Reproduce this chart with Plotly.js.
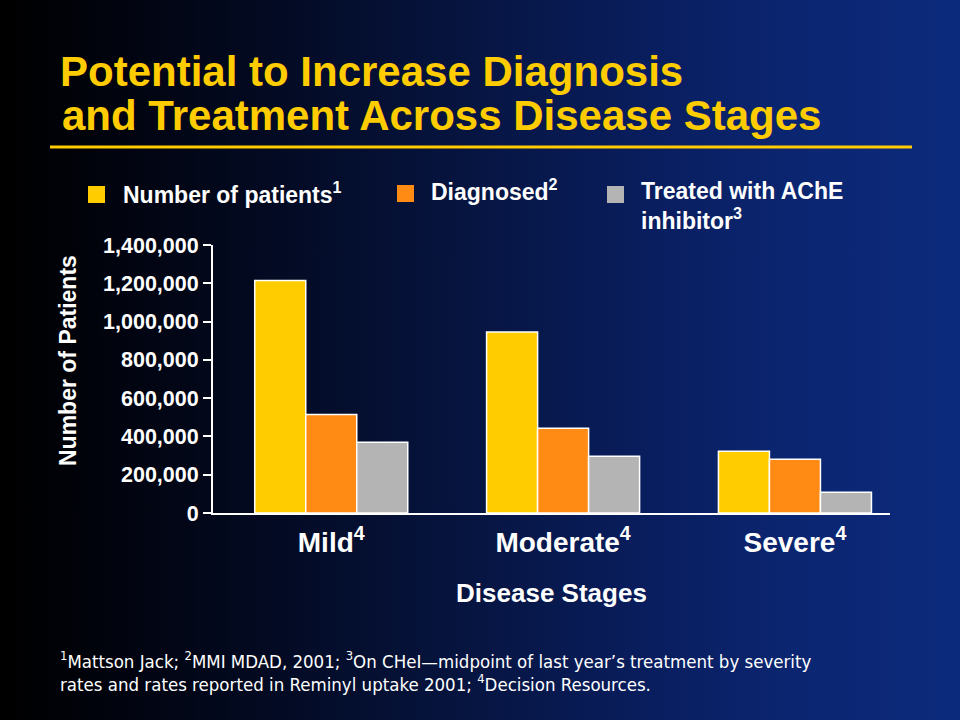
<!DOCTYPE html>
<html><head><meta charset="utf-8">
<script src="https://cdn.plot.ly/plotly-3.0.1.min.js"></script>
<style>
html,body{margin:0;padding:0;}
body{width:960px;height:720px;overflow:hidden;
background:linear-gradient(to right,#000000 0%,#01030c 10%,#030a22 28%,#06143f 48%,#091d5c 66%,#0b2570 82%,#0c2a7c 100%);}
#chart{width:960px;height:720px;}
</style></head><body><div id="chart"></div>
<script>
// ---- data ----
const categories = ['Mild', 'Moderate', 'Severe'];
const categoryLabels = ['Mild<sup>4</sup>', 'Moderate<sup>4</sup>', 'Severe<sup>4</sup>'];
const seriesNames = ['Number of patients<sup>1</sup>', 'Diagnosed<sup>2</sup>', 'Treated with AChE<br>inhibitor<sup>3</sup>'];
const numberOfPatients = [1215000, 945000, 323000];
const diagnosed = [515000, 443000, 281000];
const treatedAChE = [369000, 297000, 109000];
const yTickValues = [0, 200000, 400000, 600000, 800000, 1000000, 1200000, 1400000];
const yTickLabels = ['0', '200,000', '400,000', '600,000', '800,000', '1,000,000', '1,200,000', '1,400,000'];
const titleLines = ['Potential to Increase Diagnosis', 'and Treatment Across Disease Stages'];
const yTitle = 'Number of Patients';
const xTitle = 'Disease Stages';
const footnoteLines = [
  '<sup>1</sup>Mattson Jack; <sup>2</sup>MMI MDAD, 2001; <sup>3</sup>On CHeI\u2014midpoint of last year\u2019s treatment by severity',
  'rates and rates reported in Reminyl uptake 2001; <sup>4</sup>Decision Resources.'
];
const colors = ['#FFCC00', '#FF8A14', '#B4B4B4'];

// ---- layout helpers ----
const W = 960, H = 720;
const M = {l: 213, r: 70, t: 245, b: 207};
const pw = W - M.l - M.r, ph = H - M.t - M.b;
const px = x => (x - M.l) / pw;
const py = y => (H - M.b - y) / ph;
const FONT = '"Liberation Sans", Arial, Helvetica, sans-serif';
const NARROW = '"Liberation Sans Narrow", "Arial Narrow", "DejaVu Sans Condensed", sans-serif';

const seriesValues = [numberOfPatients, diagnosed, treatedAChE];
const traces = seriesValues.map((vals, i) => ({
  type: 'bar',
  x: categories,
  y: vals,
  name: seriesNames[i],
  marker: {color: colors[i], line: {color: '#FFFFFF', width: 1.5}},
  hoverinfo: 'none',
  showlegend: false
}));

// legend (drawn manually to match slide layout)
const legendPos = [
  {sx: 88, sy: 186, tx: 121, ty: 193},
  {sx: 397, sy: 185, tx: 429, ty: 190},
  {sx: 607, sy: 186, tx: 639, ty: 206}
];
const shapes = [
  {type: 'line', xref: 'paper', yref: 'paper', x0: px(50), x1: px(912), y0: py(147), y1: py(147),
   line: {color: '#FFCC00', width: 3}}
];
const annotations = [];
legendPos.forEach((p, i) => {
  shapes.push({type: 'rect', xref: 'paper', yref: 'paper',
    x0: px(p.sx), x1: px(p.sx + 17), y0: py(p.sy), y1: py(p.sy + 17),
    fillcolor: colors[i], line: {width: 0}});
  annotations.push({xref: 'paper', yref: 'paper', x: px(p.tx), y: py(p.ty),
    xanchor: 'left', yanchor: 'middle', align: 'left', showarrow: false,
    text: '<b>' + seriesNames[i].replace('<br>', '</b><br><b>') + '</b>',
    font: {family: FONT, size: 23, color: '#FFFFFF'}});
});
annotations.push({xref: 'paper', yref: 'paper', x: px(60), y: py(115), xanchor: 'left', yanchor: 'middle',
  showarrow: false, text: '<b>' + titleLines[1] + '</b>', font: {family: FONT, size: 42, color: '#FFCC00'}});
annotations.push({xref: 'paper', yref: 'paper', x: px(68), y: py(361), xanchor: 'center', yanchor: 'middle',
  textangle: -90, showarrow: false, text: '<b>' + yTitle + '</b>', font: {family: FONT, size: 23, color: '#FFFFFF'}});
footnoteLines.forEach((t, i) => {
  annotations.push({xref: 'paper', yref: 'paper', x: px(58), y: py(660 + i * 23), xanchor: 'left', yanchor: 'middle',
    showarrow: false, text: t, font: {family: NARROW, size: 18.5, color: '#FFFFFF'}});
});

const layout = {
  width: W, height: H,
  margin: M,
  paper_bgcolor: 'rgba(0,0,0,0)',
  plot_bgcolor: 'rgba(0,0,0,0)',
  barmode: 'group',
  bargap: 0.34,
  bargroupgap: 0,
  showlegend: false,
  title: {text: '<b>' + titleLines[0] + '</b>', x: 60 / W, xanchor: 'left', xref: 'container',
    y: 1 - 71 / H, yanchor: 'middle', yref: 'container',
    font: {family: FONT, size: 42, color: '#FFCC00'}},
  xaxis: {
    type: 'category', range: [-0.51, 2.41], tickmode: 'array', tickvals: categories, ticktext: categoryLabels,
    showline: true, linecolor: '#FFFFFF', linewidth: 2, ticks: '', showgrid: false, zeroline: false,
    ticklabelstandoff: 3,
    tickfont: {family: FONT, size: 28, color: '#FFFFFF', weight: 'bold'},
    title: {text: xTitle, standoff: 27, font: {family: FONT, size: 26, color: '#FFFFFF', weight: 'bold'}},
    fixedrange: true
  },
  yaxis: {
    range: [0, 1400000], tickmode: 'array', tickvals: yTickValues, ticktext: yTickLabels,
    showline: true, linecolor: '#FFFFFF', linewidth: 2, ticks: 'outside', ticklen: 8, tickwidth: 2, tickcolor: '#FFFFFF',
    showgrid: false, zeroline: false,
    tickfont: {family: FONT, size: 21.5, color: '#FFFFFF', weight: 'bold'},
    fixedrange: true
  },
  shapes: shapes,
  annotations: annotations
};

Plotly.newPlot('chart', traces, layout, {displayModeBar: false, staticPlot: true});
</script></body></html>
